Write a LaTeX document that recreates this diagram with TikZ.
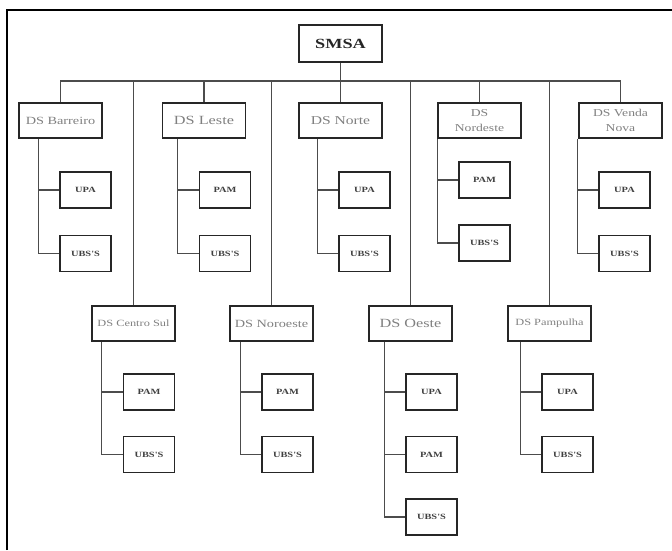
\documentclass[tikz,border=0pt]{standalone}
\usepackage{fontspec}
\setmainfont{Liberation Serif}
\newfontfamily\wideserif[FakeStretch=1.3]{Liberation Serif}

\begin{document}
\begin{tikzpicture}[
                x=1pt,y=-1pt,
                topbox/.style={draw=black!85,line width=1.5pt,minimum width=83pt,minimum height=37pt,
                    inner sep=0pt,text=black!85,font=\wideserif\bfseries\fontsize{14}{16}\selectfont},
                dsbox/.style={draw=black!85,line width=1.5pt,minimum width=83pt,minimum height=35pt,
                    inner sep=1pt,align=center,text=black!50,font=\wideserif\fontsize{#1}{15}\selectfont},
                dsbox/.default=11,
                unit/.style={draw=black!85,line width=1.5pt,minimum width=51pt,minimum height=36pt,
                    inner sep=0pt,text=black!75,font=\wideserif\bfseries\fontsize{8}{10}\selectfont},
                link/.style={draw=black!70,line width=1.3pt}
            ]

            \useasboundingbox (0,0) rectangle (672,550);
            \draw[line width=2.5pt] (7,550) -- (7,10) -- (672,10);

            % head
            \node[topbox] (smsa) at (340.5,43.5) {SMSA};

            % first row of districts
            \node[dsbox=11] (barreiro) at (60.5,120.5) {DS Barreiro};
            \node[dsbox=12.5] (leste) at (204,120.5) {DS Leste};
            \node[dsbox=12] (norte) at (340.5,120.5) {DS Norte};
            \node[dsbox=10.5] (nordeste) at (479.5,120.5) {DS\\Nordeste};
            \node[dsbox=10.5] (venda) at (620.5,120.5) {DS Venda\\Nova};

            % second row of districts
            \node[dsbox=9.5] (centro) at (133.5,323.5) {DS Centro Sul};
            \node[dsbox=11] (noroeste) at (271.5,323.5) {DS Noroeste};
            \node[dsbox=12.5] (oeste) at (410.5,323.5) {DS Oeste};
            \node[dsbox=9.5] (pampulha) at (549.5,323.5) {DS Pampulha};

            % units
            \node[unit] (b1) at (85.5,190) {UPA};
            \node[unit] (b2) at (85.5,253.5) {UBS'S};
            \node[unit] (l1) at (225,190) {PAM};
            \node[unit] (l2) at (225,253.5) {UBS'S};
            \node[unit] (n1) at (364.5,190) {UPA};
            \node[unit] (n2) at (364.5,253.5) {UBS'S};
            \node[unit] (d1) at (484.5,180) {PAM};
            \node[unit] (d2) at (484.5,243) {UBS'S};
            \node[unit] (v1) at (624.5,190) {UPA};
            \node[unit] (v2) at (624.5,253.5) {UBS'S};
            \node[unit] (c1) at (149,392) {PAM};
            \node[unit] (c2) at (149,454.5) {UBS'S};
            \node[unit] (r1) at (287.5,392) {PAM};
            \node[unit] (r2) at (287.5,454.5) {UBS'S};
            \node[unit] (o1) at (431.5,392) {UPA};
            \node[unit] (o2) at (431.5,454.5) {PAM};
            \node[unit] (o3) at (431.5,517) {UBS'S};
            \node[unit] (p1) at (567.5,392) {UPA};
            \node[unit] (p2) at (567.5,454.5) {UBS'S};

            % links
            \coordinate (bus) at (0,81);
            \draw[link] (smsa.south) -- (norte.north);
            \draw[link] (barreiro.north) -- (barreiro.north |- bus) -- (venda.north |- bus) -- (venda.north);
            \foreach \n in {leste,nordeste,centro,noroeste,oeste,pampulha}
                \draw[link] (\n.north) -- (\n.north |- bus);

            \foreach \p/\k in {barreiro/b,leste/l,norte/n,nordeste/d,venda/v,
                    centro/c,noroeste/r,oeste/o,pampulha/p} {
                \coordinate (\k0) at ([xshift=-21pt]\k1.west);
                \draw[link] (\p.south -| \k0) |- (\k2.west);
                \draw[link] (\k0) -- (\k1.west);
            }
            \draw[link] (o0 |- o2.west) |- (o3.west);

        \end{tikzpicture}
\end{document}
